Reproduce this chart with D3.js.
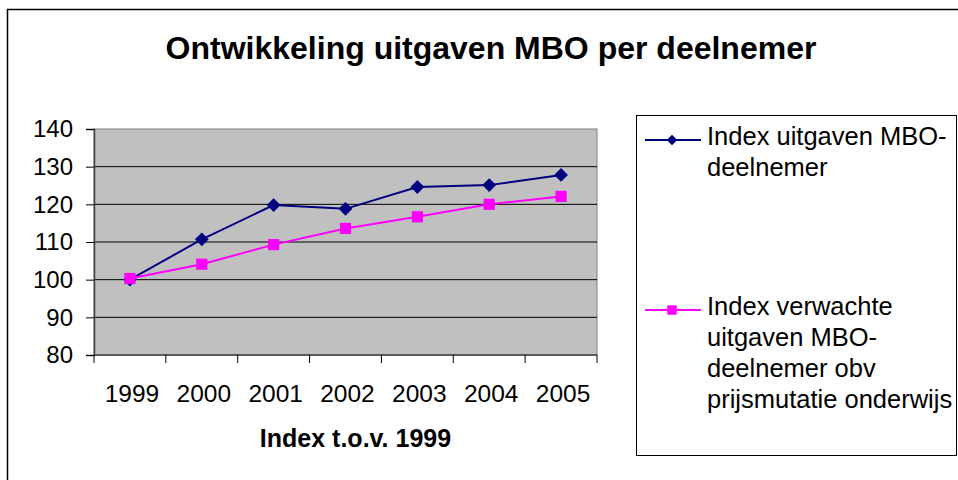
<!DOCTYPE html>
<html>
<head>
<meta charset="utf-8">
<script src="https://cdn.jsdelivr.net/npm/d3@7"></script>
<style>
  html, body { margin: 0; padding: 0; background: #fff; }
  svg { display: block; font-family: "Liberation Sans", Arial, sans-serif; }
</style>
</head>
<body>
<svg id="chart" width="958" height="480"></svg>
<script>
// data
const years = ["1999", "2000", "2001", "2002", "2003", "2004", "2005"];
const uitgaven = [100, 110.7, 119.8, 118.8, 124.6, 125.1, 127.8];
const verwacht = [100.3, 104.1, 109.3, 113.6, 116.7, 120.0, 122.1];
const yTicks = [80, 90, 100, 110, 120, 130, 140];
const seriesNames = [
    ["Index uitgaven MBO-", "deelnemer"],
    ["Index verwachte", "uitgaven MBO-", "deelnemer obv", "prijsmutatie onderwijs"]
];

const svg = d3.select("#chart");

// outer frame
svg.append("rect")
    .attr("x", 7.5).attr("y", 9.5)
    .attr("width", 1000).attr("height", 500)
    .attr("fill", "#fff")
    .attr("stroke", "#000").attr("stroke-width", 1.5);

// title
svg.append("text")
    .attr("x", 491).attr("y", 59)
    .attr("text-anchor", "middle")
    .attr("font-size", 32).attr("font-weight", "bold")
    .text("Ontwikkeling uitgaven MBO per deelnemer");

const plot = { left: 94, right: 597, top: 129, bottom: 355 };

const x = d3.scaleBand().domain(years).range([plot.left, plot.right]);
const y = d3.scaleLinear().domain([80, 140]).range([plot.bottom, plot.top]);

// plot background
svg.append("rect")
    .attr("x", plot.left).attr("y", plot.top)
    .attr("width", plot.right - plot.left).attr("height", plot.bottom - plot.top)
    .attr("fill", "#c0c0c0")
    .attr("stroke", "#808080").attr("stroke-width", 1);

// gridlines
svg.append("g")
    .selectAll("line")
    .data(yTicks.slice(1, -1))
    .enter()
    .append("line")
    .attr("x1", plot.left).attr("x2", plot.right)
    .attr("y1", d => y(d)).attr("y2", d => y(d))
    .attr("stroke", "#000").attr("stroke-width", 1);

// y axis
const yAxis = d3.axisLeft(y).tickValues(yTicks).tickSize(8).tickPadding(13);
const gy = svg.append("g")
    .attr("transform", "translate(" + plot.left + ",0)")
    .call(yAxis);
gy.select(".domain").attr("stroke", "#404040").attr("stroke-width", 1.5);
gy.selectAll(".tick line").attr("stroke", "#000");
gy.selectAll("text")
    .attr("font-family", "Liberation Sans, Arial, sans-serif")
    .attr("font-size", 24).attr("fill", "#000");

// x axis: ticks on band edges, labels centered
const gx = svg.append("g")
    .attr("transform", "translate(0," + plot.bottom + ")");
gx.append("line")
    .attr("x1", plot.left).attr("x2", plot.right)
    .attr("stroke", "#404040").attr("stroke-width", 1.5);
gx.selectAll(".xtick")
    .data(years.concat(["end"]))
    .enter()
    .append("line")
    .attr("class", "xtick")
    .attr("x1", (d, i) => i < years.length ? x(d) : x.range()[1])
    .attr("x2", (d, i) => i < years.length ? x(d) : x.range()[1])
    .attr("y1", 0).attr("y2", 8)
    .attr("stroke", "#000");
gx.selectAll(".xlabel")
    .data(years)
    .enter()
    .append("text")
    .attr("class", "xlabel")
    .attr("x", d => x(d) + x.bandwidth() / 2 + 2)
    .attr("y", 47)
    .attr("text-anchor", "middle")
    .attr("font-size", 24.5)
    .text(d => d);

// axis title
svg.append("text")
    .attr("x", (plot.left + plot.right) / 2 + 10).attr("y", 447)
    .attr("text-anchor", "middle")
    .attr("font-size", 25).attr("font-weight", "bold")
    .text("Index t.o.v. 1999");

// series (diamond = square rotated 45 degrees)
const series = [
    { values: uitgaven, color: "#000080", shape: d3.symbolSquare, rot: 45, size: 95, legSize: 55 },
    { values: verwacht, color: "#ff00ff", shape: d3.symbolSquare, rot: 0, size: 125, legSize: 90 }
];

const line = d3.line()
    .x((d, i) => x(years[i]) + x.bandwidth() / 2)
    .y(d => y(d));

series.forEach(s => {
    svg.append("path")
        .datum(s.values)
        .attr("d", line)
        .attr("fill", "none")
        .attr("stroke", s.color)
        .attr("stroke-width", 2);
    svg.append("g")
        .selectAll("path")
        .data(s.values)
        .enter()
        .append("path")
        .attr("transform", (d, i) => "translate(" + (x(years[i]) + x.bandwidth() / 2) + "," + y(d) + ") rotate(" + s.rot + ")")
        .attr("d", d3.symbol().type(s.shape).size(s.size))
        .attr("fill", s.color);
});

// legend
const legend = svg.append("g");
legend.append("rect")
    .attr("x", 636.5).attr("y", 115.5)
    .attr("width", 320).attr("height", 340)
    .attr("fill", "#fff")
    .attr("stroke", "#000").attr("stroke-width", 1);

const legendY = [140, 310];
const lineStart = [145, 315];
series.forEach((s, k) => {
    legend.append("line")
        .attr("x1", 645).attr("x2", 701)
        .attr("y1", legendY[k]).attr("y2", legendY[k])
        .attr("stroke", s.color).attr("stroke-width", 2);
    legend.append("path")
        .attr("transform", "translate(672," + legendY[k] + ") rotate(" + s.rot + ")")
        .attr("d", d3.symbol().type(s.shape).size(s.legSize))
        .attr("fill", s.color);
    legend.append("g")
        .selectAll("text")
        .data(seriesNames[k])
        .enter()
        .append("text")
        .attr("x", 707)
        .attr("y", (d, i) => lineStart[k] + i * 31)
        .attr("font-size", 25.5)
        .text(d => d);
});
</script>
</body>
</html>
